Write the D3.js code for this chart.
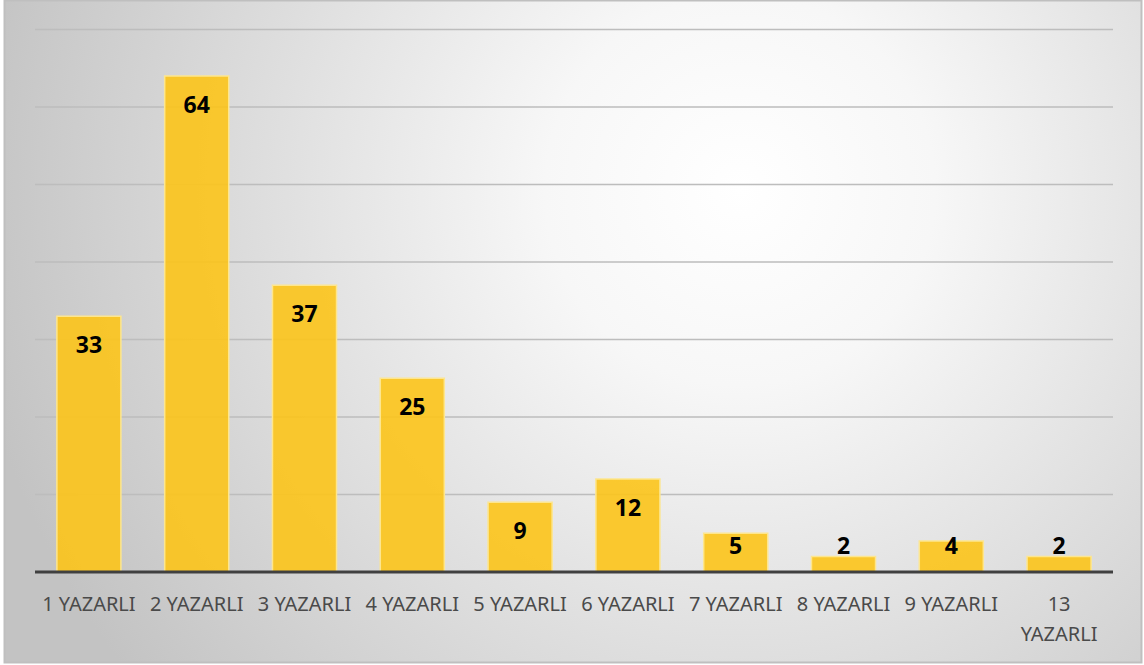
<!DOCTYPE html>
<html>
<head>
<meta charset="utf-8">
<script src="https://cdn.jsdelivr.net/npm/d3@7"></script>
<style>
  body { margin: 0; background: #fff; }
</style>
</head>
<body>
<script>
// datos
const categorias = ["1 YAZARLI", "2 YAZARLI", "3 YAZARLI", "4 YAZARLI", "5 YAZARLI",
                    "6 YAZARLI", "7 YAZARLI", "8 YAZARLI", "9 YAZARLI", "13 YAZARLI"];
const valores = [33, 64, 37, 25, 9, 12, 5, 2, 4, 2];
const ticksY = [0, 10, 20, 30, 40, 50, 60, 70];

const width = 1144;
const height = 665;
const margin = { left: 35, right: 31, top: 29.5, bottom: 93 };

const svg = d3.select("body")
    .append("svg")
    .attr("width", width)
    .attr("height", height);

// fondo con degradado radial
const defs = svg.append("defs");
const grad = defs.append("radialGradient")
    .attr("id", "fondo")
    .attr("gradientUnits", "userSpaceOnUse")
    .attr("cx", 740).attr("cy", 190).attr("r", 780);
grad.append("stop").attr("offset", "0%").attr("stop-color", "#ffffff");
grad.append("stop").attr("offset", "25%").attr("stop-color", "#f7f7f7");
grad.append("stop").attr("offset", "100%").attr("stop-color", "#c3c3c3");

svg.append("rect")
    .attr("x", 4.5).attr("y", 0.5)
    .attr("width", 1137).attr("height", 662)
    .attr("fill", "url(#fondo)")
    .attr("stroke", "#bfbfbf")
    .attr("stroke-width", 2);

const xScale = d3.scaleBand()
    .domain(categorias)
    .range([margin.left, width - margin.right])
    .paddingInner(0.406)
    .paddingOuter(0.203);

const yScale = d3.scaleLinear()
    .domain([0, 70])
    .range([height - margin.bottom, margin.top]);

// lineas de division
svg.append("g")
    .selectAll("line")
    .data(ticksY.filter(t => t > 0))
    .enter()
    .append("line")
    .attr("x1", margin.left)
    .attr("x2", width - margin.right)
    .attr("y1", d => yScale(d))
    .attr("y2", d => yScale(d))
    .attr("stroke", "#bdbdbd")
    .attr("stroke-width", 1.3);

// barras
svg.append("g")
    .selectAll("rect")
    .data(valores)
    .enter()
    .append("rect")
    .attr("x", (d, i) => xScale(categorias[i]))
    .attr("y", d => yScale(d))
    .attr("width", xScale.bandwidth())
    .attr("height", d => yScale(0) - yScale(d))
    .attr("fill", "#fcc419")
    .attr("fill-opacity", 0.9)
    .attr("stroke", "#fde68f")
    .attr("stroke-width", 1.5);

// eje X
svg.append("line")
    .attr("x1", margin.left)
    .attr("x2", width - margin.right)
    .attr("y1", yScale(0))
    .attr("y2", yScale(0))
    .attr("stroke", "#404040")
    .attr("stroke-width", 3);

// etiquetas de datos
svg.append("g")
    .selectAll("text")
    .data(valores)
    .enter()
    .append("text")
    .attr("x", (d, i) => xScale(categorias[i]) + xScale.bandwidth() / 2)
    .attr("y", d => Math.min(yScale(d) + 29, yScale(0) - 26))
    .attr("dy", "0.35em")
    .attr("text-anchor", "middle")
    .style("font-family", "'Noto Sans', 'Open Sans', sans-serif")
    .style("font-weight", "bold")
    .style("font-size", "23px")
    .attr("fill", "#000")
    .text(d => d);

// etiquetas de categorias
const etiq = svg.append("g")
    .selectAll("text")
    .data(categorias)
    .enter()
    .append("text")
    .attr("x", d => xScale(d) + xScale.bandwidth() / 2)
    .attr("y", yScale(0) + 32)
    .attr("dy", "0.35em")
    .attr("text-anchor", "middle")
    .style("font-family", "'Noto Sans', 'Open Sans', sans-serif")
    .style("font-size", "20px")
    .attr("fill", "#4a4a4a");

etiq.each(function (d) {
    const t = d3.select(this);
    if (d === "13 YAZARLI") {
        const partes = d.split(" ");
        partes.forEach((p, i) => {
            t.append("tspan")
                .attr("x", xScale(d) + xScale.bandwidth() / 2)
                .attr("dy", i === 0 ? "0.35em" : "1.5em")
                .text(p);
        });
    } else {
        t.text(d);
    }
});
</script>
</body>
</html>
